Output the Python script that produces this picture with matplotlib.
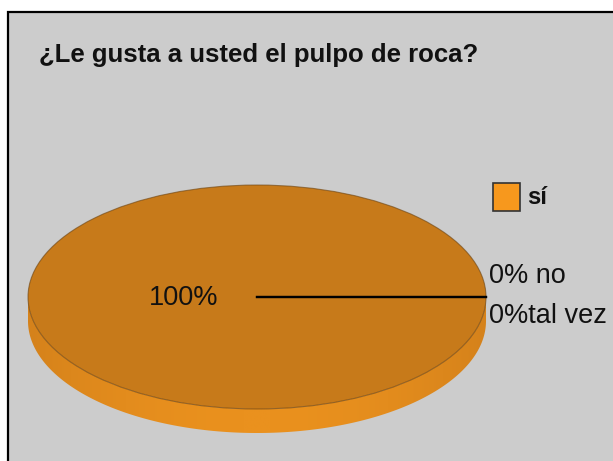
"""3D-style pie chart: ¿Le gusta a usted el pulpo de roca?"""

import numpy as np
import matplotlib
matplotlib.use("Agg")
import matplotlib.pyplot as plt
from matplotlib.patches import Rectangle, Wedge, Polygon, Ellipse
from matplotlib.transforms import Affine2D

TITLE = "¿Le gusta a usted el pulpo de roca?"
CATEGORIES = ["sí", "no", "tal vez"]
PERCENTS = [100, 0, 0]
LEGEND_ITEMS = ["sí"]

TOP_COLOR = "#C77A1A"
SIDE_DARK = "#D5821B"
SIDE_LIGHT = "#EA911E"
LEGEND_COLOR = "#F7981D"
PANEL_COLOR = "#CCCCCC"

FONT = ["Liberation Sans", "DejaVu Sans"]

W, H = 613, 461
CX, CY = 257, 297      # pie centre (pixels)
RX, RY = 229, 112      # ellipse radii
DEPTH = 24             # rim thickness


def ellipse_point(angle_deg, rx=RX, ry=RY):
    a = np.radians(angle_deg)
    return CX + rx * np.cos(a), CY - ry * np.sin(a)


fig = plt.figure(figsize=(W / 100, H / 100), dpi=100, facecolor="white")
ax = fig.add_axes([0, 0, 1, 1])
ax.set_xlim(0, W)
ax.set_ylim(H, 0)
ax.axis("off")

# chart area
ax.add_patch(Rectangle((8, 12), W, H, facecolor=PANEL_COLOR,
                       edgecolor="black", linewidth=1.6, zorder=0))

ax.text(39, 55, TITLE, fontsize=18.5, fontweight="bold", family=FONT,
        va="center", ha="left", color="#111111")

# rim of the pie (front half), shaded with a horizontal gradient
theta = np.linspace(180, 360, 200)
top_x, top_y = ellipse_point(theta)
rim = np.concatenate([np.column_stack([top_x, top_y]),
                      np.column_stack([top_x[::-1], top_y[::-1] + DEPTH])])
rim_patch = Polygon(rim, closed=True, facecolor="none", edgecolor="none")
ax.add_patch(rim_patch)
xs = np.linspace(-1, 1, 256)
shade = 1 - np.abs(xs) ** 2
cmap = matplotlib.colors.LinearSegmentedColormap.from_list(
    "rim", [SIDE_DARK, SIDE_LIGHT])
img = ax.imshow(shade[np.newaxis, :], cmap=cmap, aspect="auto",
                extent=(CX - RX, CX + RX, CY + RY + DEPTH, CY - 5),
                zorder=1, interpolation="bilinear")
img.set_clip_path(rim_patch)

# top face, one wedge per category
scale = Affine2D().scale(RX, -RY).translate(CX, CY) + ax.transData
total = sum(PERCENTS)
start = 0.0
bounds = []
for cat, pct in zip(CATEGORIES, PERCENTS):
    sweep = 360.0 * pct / total
    if sweep > 0:
        ax.add_patch(Wedge((0, 0), 1, start, start + sweep,
                           facecolor=TOP_COLOR, edgecolor="none",
                           transform=scale, zorder=2))
    bounds.append(start)
    start += sweep

ax.add_patch(Ellipse((CX, CY), 2 * RX, 2 * RY, facecolor="none",
                     edgecolor="#6b4210", linewidth=0.8, alpha=0.6, zorder=3))

# slice boundaries
for b in sorted(set(bounds)):
    ex, ey = ellipse_point(b)
    ax.plot([CX, ex], [CY, ey], color="black", linewidth=1.6, zorder=4)

# data labels
start = 0.0
outer = 0
for cat, pct in zip(CATEGORIES, PERCENTS):
    sweep = 360.0 * pct / total
    mid = start + sweep / 2
    if pct > 0:
        lx, ly = ellipse_point(mid, RX * 0.32, RY * 0.32)
        ax.text(lx, ly + 1, f"{pct}%", fontsize=19.5, family=FONT,
                ha="center", va="center", color="#111111", zorder=5)
    else:
        ex, ey = ellipse_point(mid)
        sep = " " if outer == 0 else ""
        ax.text(ex + 3, ey - 21 + outer * 40, f"{pct}%{sep}{cat}",
                fontsize=19.5, family=FONT, ha="left", va="center",
                color="#111111", zorder=5)
        outer += 1
    start += sweep

# legend
for i, name in enumerate(LEGEND_ITEMS):
    ax.add_patch(Rectangle((493, 183 + i * 30), 27, 28,
                           facecolor=LEGEND_COLOR, edgecolor="#333333",
                           linewidth=1.2, zorder=5))
    ax.text(527, 197 + i * 30, name, fontsize=17, fontweight="bold",
            family=FONT, ha="left", va="center", color="#111111")

fig.savefig("out.png", dpi=100, facecolor="white")
